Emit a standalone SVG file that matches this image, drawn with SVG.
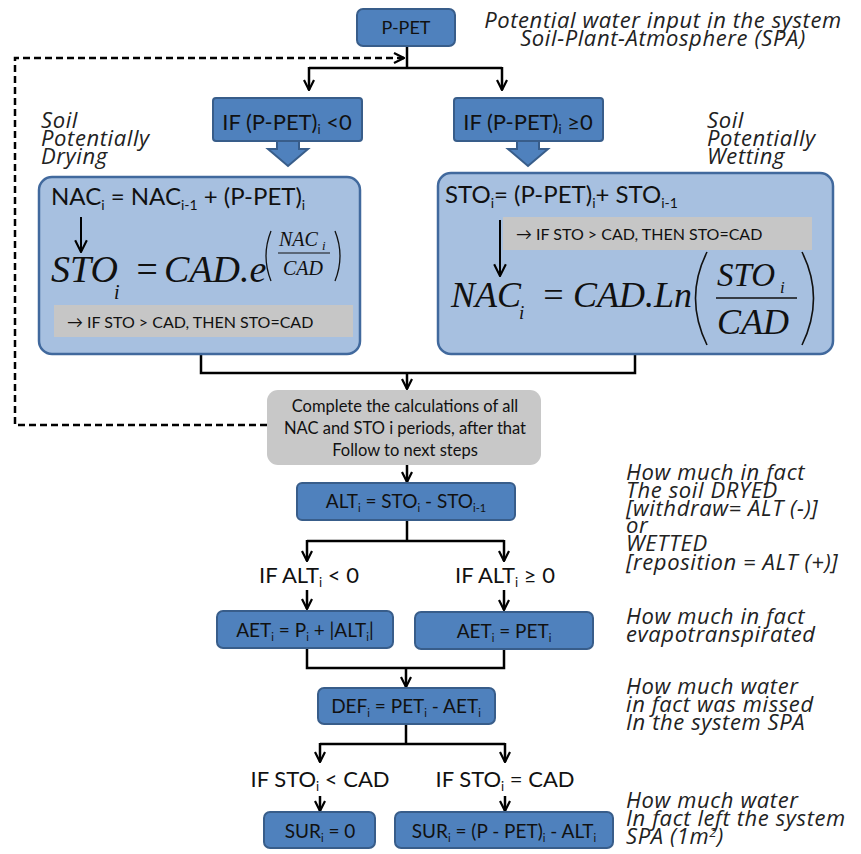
<svg xmlns="http://www.w3.org/2000/svg" width="861" height="854" viewBox="0 0 861 854">
<defs>
<marker id="arr" viewBox="0 0 12 12" refX="11" refY="6" markerWidth="12" markerHeight="12" markerUnits="userSpaceOnUse" orient="auto">
<path d="M1,1 L11,6 L1,11" fill="none" stroke="#000" stroke-width="2.2"/>
</marker>
<marker id="arrs" viewBox="0 0 12 12" refX="11" refY="6" markerWidth="14" markerHeight="14" markerUnits="userSpaceOnUse" orient="auto">
<path d="M1,1 L11,6 L1,11" fill="none" stroke="#000" stroke-width="1.8"/>
</marker>
</defs>
<style>
.bx{fill:#4f81bd;stroke:#385d8a;stroke-width:2}
.lb{fill:#a7c0e0;stroke:#41699d;stroke-width:2.5}
.gb{fill:#c6c6c6}
.t{font-family:Lato,"Liberation Sans",sans-serif;fill:#111}
.c{text-anchor:middle}
.it{font-family:"Open Sans","Liberation Sans",sans-serif;font-style:italic;fill:#222;font-size:22px;letter-spacing:0.6px}
.m{font-family:"Liberation Serif",serif;font-style:italic;fill:#111}
.ln{fill:none;stroke:#000;stroke-width:2.5}
.dl{fill:none;stroke:#000;stroke-width:2.5;stroke-dasharray:7 4}
</style>
<rect width="861" height="854" fill="#fff"/>

<g id="connectors">
<path class="dl" d="M267,425 H15 V58 H404" marker-end="url(#arr)"/>
<path class="ln" d="M407,46 V68"/>
<path class="ln" d="M309,68 H502"/>
<path class="ln" d="M309,67 V90" marker-end="url(#arr)"/>
<path class="ln" d="M502,67 V90" marker-end="url(#arr)"/>
<path class="ln" d="M201,354 V373 H635 V354"/>
<path class="ln" d="M407,373 V389" marker-end="url(#arr)"/>
<path class="ln" d="M407,465 V482" marker-end="url(#arr)"/>
<path class="ln" d="M407,520 V541"/>
<path class="ln" d="M307,541 H504"/>
<path class="ln" d="M307,540 V561" marker-end="url(#arr)"/>
<path class="ln" d="M504,540 V561" marker-end="url(#arr)"/>
<path class="ln" d="M307,590 V609" marker-end="url(#arr)"/>
<path class="ln" d="M504,590 V610" marker-end="url(#arr)"/>
<path class="ln" d="M307,648 V668 H504 V649"/>
<path class="ln" d="M406,668 V687" marker-end="url(#arr)"/>
<path class="ln" d="M406,724 V744"/>
<path class="ln" d="M320,744 H505"/>
<path class="ln" d="M320,743 V762" marker-end="url(#arr)"/>
<path class="ln" d="M505,743 V762" marker-end="url(#arr)"/>
<path class="ln" d="M320,796 V811" marker-end="url(#arr)"/>
<path class="ln" d="M505,796 V811" marker-end="url(#arr)"/>
</g>

<g id="ppet">
<rect class="bx" x="357" y="9" width="98" height="37" rx="6"/>
<text class="t c" x="406" y="34" font-size="18">P-PET</text>
</g>
<g id="note-top">
<text class="it" text-anchor="middle" x="663" y="28">Potential water input in the system</text>
<text class="it" text-anchor="middle" x="663" y="46">Soil-Plant-Atmosphere (SPA)</text>
</g>

<g id="if-neg">
<rect class="bx" x="213" y="98" width="149" height="43" rx="3"/>
<text class="t c" x="287" y="130" font-size="22">IF (P-PET)<tspan font-size="13" dy="4">i</tspan><tspan dy="-4"> &lt;0</tspan></text>
<path class="bx" d="M277,141 H299 V149 H308 L288,166 L268,149 H277 Z"/>
</g>
<g id="if-pos">
<rect class="bx" x="454" y="98" width="149" height="43" rx="3"/>
<text class="t c" x="528" y="130" font-size="22">IF (P-PET)<tspan font-size="13" dy="4">i</tspan><tspan dy="-4"> ≥0</tspan></text>
<path class="bx" d="M517,141 H539 V149 H548 L528,166 L508,149 H517 Z"/>
</g>

<g id="label-drying">
<text class="it" x="41" y="128">Soil</text>
<text class="it" x="41" y="146">Potentially</text>
<text class="it" x="41" y="164">Drying</text>
</g>
<g id="label-wetting">
<text class="it" x="707" y="128">Soil</text>
<text class="it" x="707" y="146">Potentially</text>
<text class="it" x="707" y="164">Wetting</text>
</g>

<g id="drying-box">
<rect class="lb" x="39" y="177" width="321" height="177" rx="13"/>
<text class="t" x="51" y="205" font-size="24">NAC<tspan font-size="14" dy="5">i</tspan><tspan dy="-5"> = NAC</tspan><tspan font-size="14" dy="5">i-1</tspan><tspan dy="-5"> + (P-PET)</tspan><tspan font-size="14" dy="5">i</tspan></text>
<path d="M81,217 V252" stroke="#000" stroke-width="2" marker-end="url(#arrs)"/>
<text class="m" x="51" y="282" font-size="38">STO</text>
<text class="m" x="114" y="299" font-size="20">i</text>
<text class="m" x="134" y="282" font-size="38" font-style="normal">=</text>
<text class="m" x="164" y="282" font-size="38">CAD.e</text>
<path d="M271,231 Q261,256 271,281" fill="none" stroke="#111" stroke-width="1.3"/>
<path d="M335,231 Q345,256 335,281" fill="none" stroke="#111" stroke-width="1.3"/>
<text class="m" x="279" y="246" font-size="20">NAC</text>
<text class="m" x="322" y="250" font-size="13">i</text>
<line x1="278" y1="253" x2="330" y2="253" stroke="#111" stroke-width="1"/>
<text class="m" x="283" y="275" font-size="20">CAD</text>
<rect class="gb" x="54" y="305" width="299" height="32"/>
<text class="t" x="67" y="328" font-size="16" fill="#222">→ IF STO &gt; CAD, THEN STO=CAD</text>
</g>

<g id="wetting-box">
<rect class="lb" x="438" y="173" width="395" height="181" rx="13"/>
<text class="t" x="445" y="203" font-size="24">STO<tspan font-size="14" dy="5">i</tspan><tspan dy="-5">= (P-PET)</tspan><tspan font-size="14" dy="5">i</tspan><tspan dy="-5">+ STO</tspan><tspan font-size="14" dy="5">i-1</tspan></text>
<rect class="gb" x="503" y="217" width="309" height="33"/>
<text class="t" x="516" y="240" font-size="16" fill="#222">→ IF STO &gt; CAD, THEN STO=CAD</text>
<path d="M500,220 V276" stroke="#000" stroke-width="2" marker-end="url(#arrs)"/>
<text class="m" x="451" y="307" font-size="36">NAC</text>
<text class="m" x="519" y="319" font-size="19">i</text>
<text class="m" x="541" y="307" font-size="36" font-style="normal">=</text>
<text class="m" x="573" y="307" font-size="36">CAD.Ln</text>
<path d="M707,252 Q684,298 707,345" fill="none" stroke="#111" stroke-width="1.6"/>
<path d="M802,252 Q825,298 802,345" fill="none" stroke="#111" stroke-width="1.6"/>
<text class="m" x="717" y="286" font-size="33">STO</text>
<text class="m" x="780" y="293" font-size="17">i</text>
<line x1="716" y1="298" x2="797" y2="298" stroke="#111" stroke-width="1.3"/>
<text class="m" x="717" y="334" font-size="36">CAD</text>
</g>

<g id="complete">
<rect x="267" y="390" width="274" height="75" rx="11" fill="#c8c8c8"/>
<text class="t c" x="405" y="412" font-size="16.5" fill="#333">Complete the calculations of all</text>
<text class="t c" x="405" y="434" font-size="16.5" fill="#333">NAC and  STO i periods,  after that</text>
<text class="t c" x="405" y="456" font-size="16.5" fill="#333">Follow to next steps</text>
</g>

<g id="alt">
<rect class="bx" x="297" y="483" width="218" height="37" rx="5"/>
<text class="t c" x="406" y="508" font-size="19">ALT<tspan font-size="11" dy="4">i</tspan><tspan dy="-4"> = STO</tspan><tspan font-size="11" dy="4">i</tspan><tspan dy="-4"> - STO</tspan><tspan font-size="11" dy="4">i-1</tspan></text>
</g>
<g id="note-alt">
<text class="it" x="626" y="480">How much in fact</text>
<text class="it" x="626" y="498">The soil DRYED</text>
<text class="it" x="626" y="516">[withdraw= ALT (-)]</text>
<text class="it" x="626" y="533">or</text>
<text class="it" x="626" y="551">WETTED</text>
<text class="it" x="626" y="570">[reposition = ALT (+)]</text>
</g>

<g id="if-alt-neg">
<text class="t c" x="309" y="583" font-size="22">IF ALT<tspan font-size="13" dy="4">i</tspan><tspan dy="-4"> &lt; 0</tspan></text>
</g>
<g id="if-alt-pos">
<text class="t c" x="505" y="583" font-size="22">IF ALT<tspan font-size="13" dy="4">i</tspan><tspan dy="-4"> ≥ 0</tspan></text>
</g>

<g id="aet-neg">
<rect class="bx" x="217" y="611" width="176" height="37" rx="6"/>
<text class="t c" x="305" y="637" font-size="19">AET<tspan font-size="11" dy="4">i</tspan><tspan dy="-4"> = P</tspan><tspan font-size="11" dy="4">i</tspan><tspan dy="-4"> + |ALT</tspan><tspan font-size="11" dy="4">i</tspan><tspan dy="-4">|</tspan></text>
</g>
<g id="aet-pos">
<rect class="bx" x="415" y="612" width="178" height="37" rx="6"/>
<text class="t c" x="504" y="638" font-size="19">AET<tspan font-size="11" dy="4">i</tspan><tspan dy="-4"> = PET</tspan><tspan font-size="11" dy="4">i</tspan></text>
</g>
<g id="note-aet">
<text class="it" x="626" y="624">How much in fact</text>
<text class="it" x="626" y="642">evapotranspirated</text>
</g>

<g id="def">
<rect class="bx" x="318" y="688" width="177" height="36" rx="6"/>
<text class="t c" x="406" y="713" font-size="19">DEF<tspan font-size="11" dy="4">i</tspan><tspan dy="-4"> = PET</tspan><tspan font-size="11" dy="4">i</tspan><tspan dy="-4"> - AET</tspan><tspan font-size="11" dy="4">i</tspan></text>
</g>
<g id="note-def">
<text class="it" x="626" y="694">How much water</text>
<text class="it" x="626" y="712">in fact was missed</text>
<text class="it" x="626" y="730">In the system SPA</text>
</g>

<g id="if-sto-lt">
<text class="t c" x="320" y="787" font-size="22">IF STO<tspan font-size="13" dy="4">i</tspan><tspan dy="-4"> &lt; CAD</tspan></text>
</g>
<g id="if-sto-eq">
<text class="t c" x="505" y="787" font-size="22">IF STO<tspan font-size="13" dy="4">i</tspan><tspan dy="-4"> = CAD</tspan></text>
</g>

<g id="sur-zero">
<rect class="bx" x="264" y="812" width="111" height="36" rx="6"/>
<text class="t c" x="320" y="838" font-size="19">SUR<tspan font-size="11" dy="4">i</tspan><tspan dy="-4"> = 0</tspan></text>
</g>
<g id="sur-pos">
<rect class="bx" x="395" y="812" width="218" height="36" rx="6"/>
<text class="t c" x="504" y="838" font-size="19">SUR<tspan font-size="11" dy="4">i</tspan><tspan dy="-4"> = (P - PET)</tspan><tspan font-size="11" dy="4">i</tspan><tspan dy="-4"> - ALT</tspan><tspan font-size="11" dy="4">i</tspan></text>
</g>
<g id="note-sur">
<text class="it" x="626" y="808">How much water</text>
<text class="it" x="626" y="826">In fact left the system</text>
<text class="it" x="626" y="844">SPA (1m<tspan font-size="13" dy="-7">2</tspan><tspan dy="7">)</tspan></text>
</g>
</svg>
